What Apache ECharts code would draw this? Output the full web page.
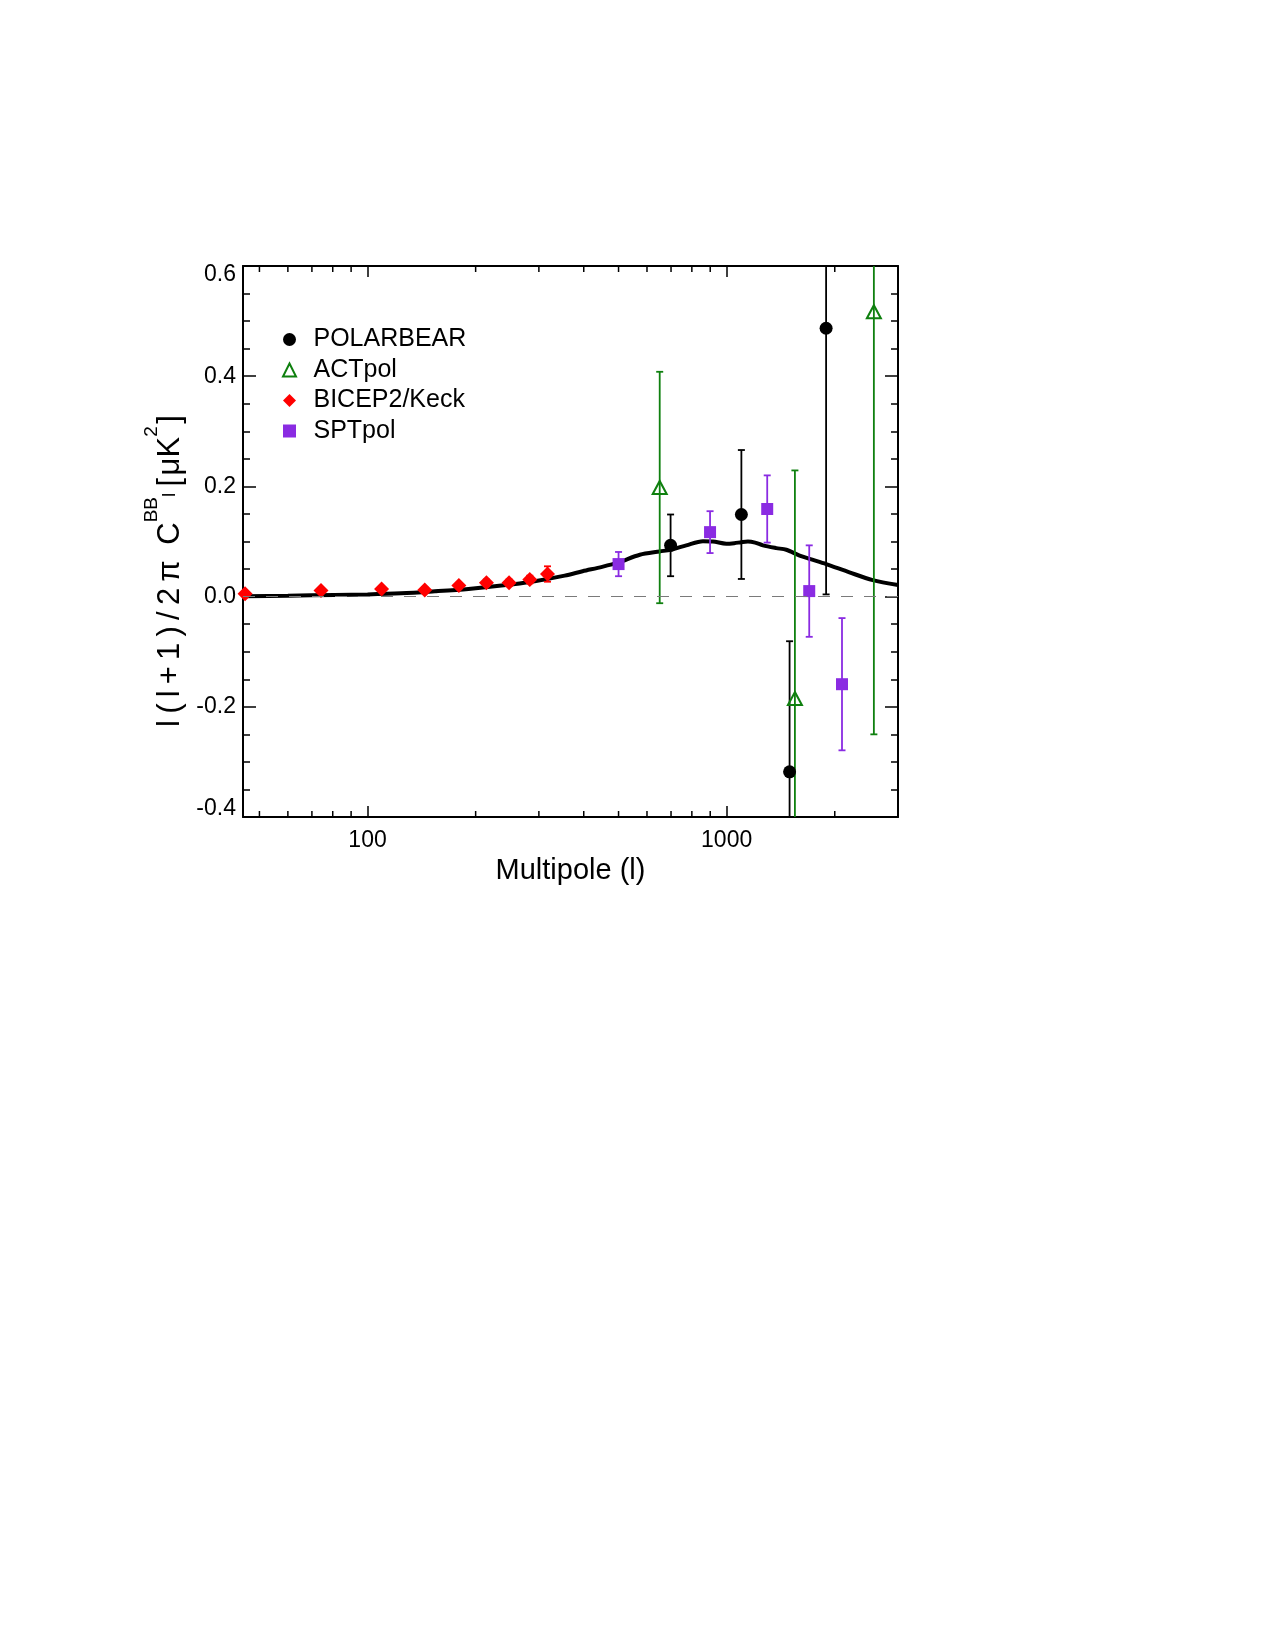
<!DOCTYPE html>
<html>
<head>
<meta charset="utf-8">
<script src="https://cdn.jsdelivr.net/npm/echarts@6/dist/echarts.min.js"></script>
<style>
  html, body { margin: 0; padding: 0; background: #fff; }
  #main { width: 1275px; height: 1650px; }
</style>
</head>
<body>
<div id="main"></div>
<script>
// axis ranges
var ELL_MIN = 45, ELL_MAX = 3000;
var Y_MIN = -0.4, Y_MAX = 0.6;
var xMinorTicks = [50, 60, 70, 80, 90, 200, 300, 400, 500, 600, 700, 800, 900, 2000];

// theory lensing BB curve
var theoryL = [45, 60, 81, 100, 124, 154, 191, 236, 292, 354, 397, 450, 500, 573, 651, 698, 772, 859, 916, 998, 1050, 1099, 1146, 1200, 1262, 1375, 1466, 1597, 1702, 1893, 2197, 2551, 3000];
var theoryV = [0.0005, 0.0015, 0.003, 0.004, 0.006, 0.0097, 0.014, 0.020, 0.028, 0.038, 0.046, 0.054, 0.062, 0.076, 0.082, 0.085, 0.093, 0.1005, 0.100, 0.096, 0.097, 0.0988, 0.100, 0.098, 0.093, 0.088, 0.085, 0.0745, 0.0685, 0.059, 0.044, 0.030, 0.021];

// POLARBEAR
var polarbearL = [698, 1099, 1497, 1892];
var polarbearV = [0.093, 0.149, -0.318, 0.487];
var polarbearErr = [0.056, 0.117, 0.237, 0.483];

// ACTpol
var actpolL = [651, 1549, 2570];
var actpolV = [0.198, -0.185, 0.517];
var actpolErr = [0.21, 0.414, 0.767];

// BICEP2/Keck
var bicepL = [45.6, 74.2, 109.4, 144.3, 179.6, 214.3, 247.8, 283, 317];
var bicepV = [0.005, 0.011, 0.014, 0.012, 0.020, 0.025, 0.025, 0.031, 0.041];
var bicepErr = [0.003, 0.004, 0.004, 0.005, 0.005, 0.006, 0.006, 0.007, 0.014];

// SPTpol
var sptpolL = [500, 899, 1297, 1698, 2095];
var sptpolV = [0.059, 0.117, 0.159, 0.010, -0.159];
var sptpolErr = [0.022, 0.038, 0.061, 0.083, 0.12];

var GREEN = '#0f800f', RED = '#ff0000', PURPLE = '#8a2be2';
var FONT = 'Liberation Sans, Arial, Helvetica, sans-serif';

function pairs(xs, ys) {
    var out = [];
    for (var i = 0; i < xs.length; i++) out.push([xs[i], ys[i]]);
    return out;
}
function triples(xs, ys, es) {
    var out = [];
    for (var i = 0; i < xs.length; i++) out.push([xs[i], ys[i], es[i]]);
    return out;
}

function errorSeries(name, xs, ys, es, color, width) {
    return {
        name: name,
        type: 'custom',
        clip: true,
        silent: true,
        z: 3,
        data: triples(xs, ys, es),
        encode: {x: 0, y: 1},
        renderItem: function (params, api) {
            var l = api.value(0), v = api.value(1), e = api.value(2);
            var hi = api.coord([l, v + e]);
            var lo = api.coord([l, v - e]);
            var st = {stroke: color, lineWidth: width};
            return {
                type: 'group',
                children: [
                    {type: 'line', shape: {x1: hi[0], y1: hi[1], x2: lo[0], y2: lo[1]}, style: st},
                    {type: 'line', shape: {x1: hi[0] - 3.5, y1: hi[1], x2: hi[0] + 3.5, y2: hi[1]}, style: st},
                    {type: 'line', shape: {x1: lo[0] - 3.5, y1: lo[1], x2: lo[0] + 3.5, y2: lo[1]}, style: st}
                ]
            };
        }
    };
}

var chart = echarts.init(document.getElementById('main'));

var axisLineStyle = {color: '#000', width: 2};

var option = {
    animation: false,
    backgroundColor: '#fff',
    grid: {left: 243, right: 377, top: 266, bottom: 833, containLabel: false},
    legend: {
        orient: 'vertical',
        left: 282,
        top: 327,
        padding: 0,
        itemWidth: 13,
        itemHeight: 13,
        itemGap: 5.5,
        formatter: function (name) { return '\u2002' + name; },
        textStyle: {fontFamily: FONT, fontSize: 25, color: '#000'},
        data: ['POLARBEAR', 'ACTpol', 'BICEP2/Keck', 'SPTpol']
    },
    xAxis: [
        {
            type: 'log',
            logBase: 10,
            min: ELL_MIN,
            max: ELL_MAX,
            position: 'bottom',
            name: 'Multipole (l)',
            nameLocation: 'middle',
            nameGap: 39,
            nameTextStyle: {fontFamily: FONT, fontSize: 29, color: '#000'},
            axisLine: {show: true, onZero: false, lineStyle: axisLineStyle},
            axisTick: {show: true, inside: true, length: 11, lineStyle: {color: '#000', width: 1.5}},
            axisLabel: {
                margin: 12,
                fontFamily: FONT, fontSize: 23, color: '#000',
                showMinLabel: false, showMaxLabel: false,
                formatter: function (v) {
                    var r = Math.round(v);
                    return (r === 100 || r === 1000) ? String(r) : '';
                }
            },
            splitLine: {show: false}
        },
        {
            type: 'log',
            logBase: 10,
            min: ELL_MIN,
            max: ELL_MAX,
            position: 'top',
            axisLine: {show: true, onZero: false, lineStyle: axisLineStyle},
            axisTick: {show: true, inside: true, length: 11, lineStyle: {color: '#000', width: 1.5}},
            axisLabel: {show: false},
            splitLine: {show: false}
        }
    ],
    yAxis: [
        {
            type: 'value',
            min: Y_MIN,
            max: Y_MAX,
            interval: 0.2,
            position: 'left',
            axisLine: {show: true, onZero: false, lineStyle: axisLineStyle},
            axisTick: {show: true, inside: true, length: 13, lineStyle: {color: '#000', width: 1.5}},
            minorTick: {show: true, splitNumber: 4, length: 7, lineStyle: {color: '#000', width: 1.5}},
            axisLabel: {
                margin: 7,
                fontFamily: FONT, fontSize: 23, color: '#000',
                formatter: function (v) {
                    var s = v.toFixed(1);
                    if (Math.abs(v - Y_MAX) < 1e-9) return '{top|' + s + '}';
                    if (Math.abs(v - Y_MIN) < 1e-9) return '{bot|' + s + '}';
                    return s;
                },
                rich: {
                    top: {fontFamily: FONT, fontSize: 23, color: '#000', padding: [18, 0, 0, 0]},
                    bot: {fontFamily: FONT, fontSize: 23, color: '#000', padding: [0, 0, 16, 0]}
                }
            },
            splitLine: {show: false}
        },
        {
            type: 'value',
            min: Y_MIN,
            max: Y_MAX,
            interval: 0.2,
            position: 'right',
            axisLine: {show: true, onZero: false, lineStyle: axisLineStyle},
            axisTick: {show: true, inside: true, length: 13, lineStyle: {color: '#000', width: 1.5}},
            minorTick: {show: true, splitNumber: 4, length: 7, lineStyle: {color: '#000', width: 1.5}},
            axisLabel: {show: false},
            splitLine: {show: false}
        }
    ],
    graphic: [
        {
            type: 'text',
            x: 170,
            y: 571,
            rotation: Math.PI / 2,
            style: {
                text: '{m|l\u2009(\u2009l\u2009+\u20091\u2009)\u2009/\u20092\u2009\u03c0\u2002C}{sup|BB}{sub|l}{m|\u2009[\u200a\u03bcK}{sup|2}{m|\u200a]}',
                align: 'center',
                verticalAlign: 'middle',
                fill: '#000',
                rich: {
                    m: {fontFamily: FONT, fontSize: 31, lineHeight: 56, fill: '#000', verticalAlign: 'middle'},
                    sup: {fontFamily: FONT, fontSize: 19, lineHeight: 19, fill: '#000', verticalAlign: 'top'},
                    sub: {fontFamily: FONT, fontSize: 19, lineHeight: 19, fill: '#000', verticalAlign: 'middle'}
                }
            }
        }
    ],
    series: [
        {
            // minor ticks of the log axes, and dashed zero line
            name: 'minorTicks',
            type: 'custom',
            silent: true,
            z: 1,
            data: xMinorTicks.map(function (v) { return [v, Y_MIN]; }),
            encode: {x: 0, y: 1},
            renderItem: function (params, api) {
                var b = api.coord([api.value(0), Y_MIN]);
                var t = api.coord([api.value(0), Y_MAX]);
                var st = {stroke: '#000', lineWidth: 1.5};
                return {
                    type: 'group',
                    children: [
                        {type: 'line', shape: {x1: b[0], y1: b[1], x2: b[0], y2: b[1] - 6}, style: st},
                        {type: 'line', shape: {x1: t[0], y1: t[1], x2: t[0], y2: t[1] + 6}, style: st}
                    ]
                };
            },
            markLine: {
                silent: true,
                symbol: ['none', 'none'],
                label: {show: false},
                lineStyle: {type: [12, 11], color: '#7a7a7a', width: 1},
                data: [{yAxis: 0}]
            }
        },
        {
            name: 'theory',
            type: 'line',
            z: 2,
            smooth: 0.3,
            showSymbol: false,
            symbol: 'none',
            lineStyle: {color: '#000', width: 4},
            data: pairs(theoryL, theoryV)
        },
        errorSeries('err_polarbear', polarbearL, polarbearV, polarbearErr, '#000', 1.8),
        errorSeries('err_actpol', actpolL, actpolV, actpolErr, GREEN, 1.8),
        errorSeries('err_bicep', bicepL, bicepV, bicepErr, RED, 1.8),
        errorSeries('err_sptpol', sptpolL, sptpolV, sptpolErr, PURPLE, 1.8),
        {
            name: 'POLARBEAR',
            type: 'scatter',
            z: 4,
            symbol: 'circle',
            symbolSize: 13,
            itemStyle: {color: '#000', opacity: 1},
            data: pairs(polarbearL, polarbearV)
        },
        {
            name: 'ACTpol',
            type: 'scatter',
            z: 4,
            symbol: 'triangle',
            symbolSize: [14, 13],
            itemStyle: {color: 'rgba(255,255,255,0)', borderColor: GREEN, borderWidth: 2, opacity: 1},
            data: pairs(actpolL, actpolV)
        },
        {
            name: 'BICEP2/Keck',
            type: 'scatter',
            z: 4,
            symbol: 'diamond',
            symbolSize: 15,
            itemStyle: {color: RED, opacity: 1},
            data: pairs(bicepL, bicepV)
        },
        {
            name: 'SPTpol',
            type: 'scatter',
            z: 4,
            symbol: 'rect',
            symbolSize: 12,
            itemStyle: {color: PURPLE, opacity: 1},
            data: pairs(sptpolL, sptpolV)
        }
    ]
};

chart.setOption(option);
</script>
</body>
</html>
